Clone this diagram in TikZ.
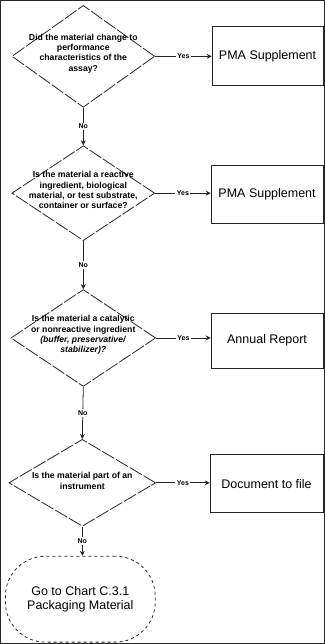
\documentclass[tikz,border=0pt]{standalone}
\usepackage{fontspec}
\setmainfont{Liberation Sans}
\usetikzlibrary{shapes.geometric,arrows.meta}
\begin{document}
\begin{tikzpicture}[x=1pt,y=-1pt,
  every path/.style={line width=0.8pt, draw=black!85},
  dia/.style={shape=diamond, draw, inner sep=0pt, dash pattern=on 14pt off 2pt},
  qtext/.style={align=center, font=\fontsize{8.7}{10.3}\selectfont\bfseries, inner sep=0pt},
  outbox/.style={draw, rectangle, inner sep=0pt, font=\fontsize{12.5}{14}\selectfont},
  term/.style={draw, rectangle, rounded corners=40pt, dashed, inner sep=0pt, align=center, font=\fontsize{12.5}{14}\selectfont},
  lab/.style={fill=white, inner sep=1.5pt, font=\fontsize{7}{8}\selectfont\bfseries},
  arr/.style={-{Stealth[length=5pt,width=5pt]}}]
\useasboundingbox (0,0) rectangle (324,644);
% decisions
\node[dia, minimum width=143pt, minimum height=102pt] (d1) at (83,56) {};
\node[qtext] (q1) at (83,53) {Did the material change to\\performance\\characteristics of the\\assay?};
\node[dia, minimum width=143pt, minimum height=95pt] (d2) at (83,193) {};
\node[qtext] (q2) at (83,190) {Is the material a reactive\\ingredient, biological\\material, or test substrate,\\container or surface?};
\node[dia, minimum width=145pt, minimum height=97pt] (d3) at (83,338) {};
\node[qtext] (q3) at (83,335) {Is the material a catalytic\\or nonreactive ingredient\\\textit{(buffer, preservative/}\\\textit{stabilizer)?}};
\node[dia, minimum width=147pt, minimum height=87pt] (d4) at (82,483) {};
\node[qtext] (q4) at (82,481) {Is the material part of an\\instrument};
% outcomes
\node[outbox, minimum width=111pt, minimum height=59pt] (b1) at (267.5,55.5) {PMA Supplement};
\node[outbox, minimum width=112pt, minimum height=58pt] (b2) at (267,194) {PMA Supplement};
\node[outbox, minimum width=112pt, minimum height=55pt] (b3) at (267,340.5) {Annual Report};
\node[outbox, minimum width=113pt, minimum height=58pt] (b4) at (266.5,484) {Document to file};
\node[term, minimum width=150pt, minimum height=86pt] (t) at (80,599.5) {Go to Chart C.3.1\\Packaging Material};
% yes connectors
\draw[arr] (d1.east) -- node[lab]{Yes} (b1.west |- d1.east);
\draw[arr] (d2.east) -- node[lab]{Yes} (b2.west |- d2.east);
\draw[arr] (d3.east) -- node[lab]{Yes} (b3.west |- d3.east);
\draw[arr] (d4.east) -- node[lab]{Yes} (b4.west |- d4.east);
% no connectors
\draw[arr] (d1.south) -- node[lab]{No} (d2.north);
\draw[arr] (d2.south) -- node[lab]{No} (d3.north);
\draw[arr] (d3.south) -- node[lab]{No} (d4.north);
\draw[arr] (d4.south) -- node[lab]{No} (t.north -| d4.south);
\end{tikzpicture}
\end{document}
